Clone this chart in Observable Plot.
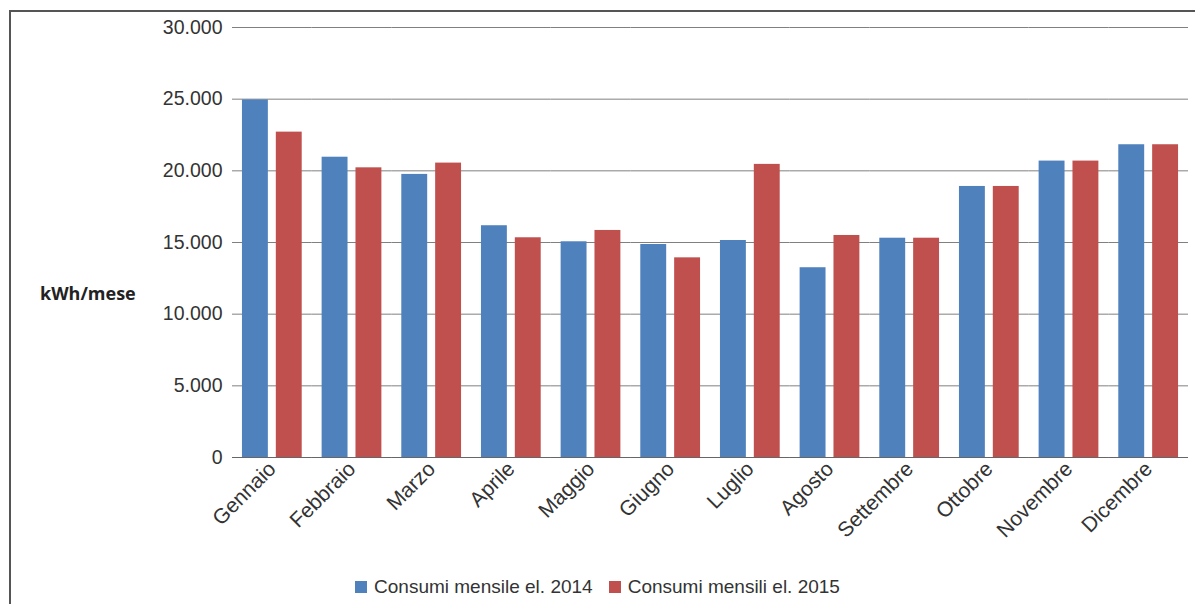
<!DOCTYPE html>
<html>
<head>
<meta charset="utf-8">
<script src="https://cdn.jsdelivr.net/npm/d3@7"></script>
<script src="https://cdn.jsdelivr.net/npm/@observablehq/plot@0.6"></script>
<style>
  html, body { margin: 0; padding: 0; background: #fff; }
  #frame { position: relative; width: 1195px; height: 604px; overflow: hidden; }
  #box { position: absolute; left: 9px; top: 10px; width: 1200px; height: 600px;
         border-left: 2px solid #555; border-top: 2px solid #555; box-sizing: border-box; }
  #chart { position: absolute; left: 0; top: 0; }
  #ylabel { position: absolute; left: 40px; top: 281px; font: bold 18px "Open Sans", "DejaVu Sans", sans-serif; color: #222; }
  #legend { position: absolute; left: 0; width: 1195px; top: 576px; text-align: center;
            font: 19px "Liberation Sans", Arial, sans-serif; color: #333; }
  #legend span.item { display: inline-block; margin: 0 8px; }
  #legend span.sw { display: inline-block; width: 12px; height: 12px; margin-right: 7px; vertical-align: 0px; }
</style>
</head>
<body>
<div id="frame">
  <div id="box"></div>
  <div id="chart"></div>
  <div id="ylabel">kWh/mese</div>
  <div id="legend"></div>
</div>
<script>
const months = ["Gennaio","Febbraio","Marzo","Aprile","Maggio","Giugno","Luglio","Agosto","Settembre","Ottobre","Novembre","Dicembre"];
const series = ["Consumi mensile el. 2014", "Consumi mensili el. 2015"];
const values2014 = [24950, 20950, 19750, 16170, 15050, 14860, 15140, 13240, 15300, 18910, 20680, 21820];
const values2015 = [22700, 20210, 20540, 15330, 15840, 13930, 20450, 15490, 15300, 18910, 20680, 21820];
const yTicks = [0, 5000, 10000, 15000, 20000, 25000, 30000];
const colors = ["#4F81BD", "#C0504D"];

const data = [];
months.forEach((m, i) => {
  data.push({month: m, series: series[0], value: values2014[i]});
  data.push({month: m, series: series[1], value: values2015[i]});
});

const fmt = d => d3.format(",")(d).replace(/,/g, ".");

const plot = Plot.plot({
  width: 1195,
  height: 565,
  marginLeft: 232,
  marginRight: 7,
  marginTop: 27,
  marginBottom: 108,
  style: {fontFamily: "'Liberation Sans', Arial, sans-serif", background: "transparent", fontSize: "19px"},
  fx: {domain: months, padding: 0, round: false, label: null},
  x: {domain: series, paddingInner: 0.235, paddingOuter: 0.294, round: false, axis: null},
  y: {domain: [0, 30000], ticks: yTicks, label: null},
  color: {domain: series, range: colors},
  marks: [
    Plot.gridY(yTicks, {stroke: "#808080", strokeOpacity: 1, strokeWidth: 1}),
    Plot.axisY(yTicks, {tickSize: 0, tickPadding: 10, tickFormat: fmt, fontSize: 19.5, fill: "#333", label: null}),
    Plot.barY(data, {fx: "month", x: "series", y: "value", fill: "series"}),
    Plot.ruleY([0], {stroke: "#666", strokeWidth: 1}),
    Plot.axisFx({anchor: "bottom", tickRotate: -45, tickSize: 0, tickPadding: 8, fontSize: 21, fill: "#333", label: null})
  ]
});
document.getElementById("chart").appendChild(plot);

const legend = document.getElementById("legend");
series.forEach((s, i) => {
  const item = document.createElement("span");
  item.className = "item";
  const sw = document.createElement("span");
  sw.className = "sw";
  sw.style.background = colors[i];
  item.appendChild(sw);
  item.appendChild(document.createTextNode(s));
  legend.appendChild(item);
});
</script>
</body>
</html>
